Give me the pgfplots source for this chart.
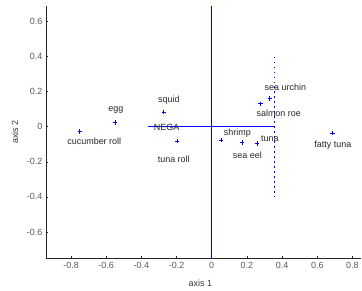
\documentclass[border=0pt]{standalone}
\usepackage{pgfplots}
\pgfplotsset{compat=1.18}
\usepackage{fontspec}
\setmainfont{Liberation Sans}
\definecolor{axgray}{RGB}{38,38,38}
\definecolor{mblue}{RGB}{0,0,255}
\begin{document}
\begin{tikzpicture}
\begin{axis}[
  name=ax,
  scale only axis,
  width=316pt, height=253.5pt,
  xmin=-0.943, xmax=0.85,
  ymin=-0.752, ymax=0.69,
  axis x line*=bottom, axis y line*=left,
  axis line style={axgray,-, line width=0.7pt},
  xtick={-0.8,-0.6,-0.4,-0.2,0,0.2,0.4,0.6,0.8},
  ytick={-0.6,-0.4,-0.2,0,0.2,0.4,0.6},
  tick align=inside,
  major tick length=2.5pt,
  tick style={axgray, line width=0.5pt},
  /pgf/number format/assume math mode=true,
  /pgf/number format/fixed,
  ticklabel style={font=\fontsize{9}{10}\selectfont, text=black!65},
  xlabel={axis 1}, ylabel={axis 2},
  xlabel style={font=\fontsize{9}{10}\selectfont, text=black!80, at={(axis description cs:0.49,-0.099)}, anchor=center},
  ylabel style={font=\fontsize{9}{10}\selectfont, text=black!80, at={(axis description cs:-0.098,0.5)}, anchor=center},
  clip=false,
]
% vertical line at 0
\addplot[draw=mblue, line width=1pt] coordinates {(0,-0.752) (0,0.69)};
% horizontal line
\addplot[draw=mblue, line width=0.9pt] coordinates {(-0.36,0) (0.36,0)};
% dotted vertical
\addplot[draw=mblue, line width=1.5pt, dash pattern=on 1.5pt off 3.5pt] coordinates {(0.356,0.4) (0.356,-0.4)};
% points
\addplot[draw=mblue, only marks, mark=+, mark size=2.2pt, mark options={draw=mblue, line width=0.8pt}] coordinates {
(-0.75,-0.028) (-0.549,0.023) (-0.273,0.084) (-0.197,-0.082) (0.053,-0.076)
(0.172,-0.089) (0.257,-0.095) (0.278,0.131) (0.330,0.160) (0.687,-0.036)
};
% labels
\addplot[only marks, mark=none, point meta=explicit symbolic, nodes near coords, every node near coord/.style={anchor=center, font=\fontsize{9}{10}\selectfont, text=black!85}] table[meta=label, col sep=comma] {
x,y,label
-0.668,-0.084,cucumber roll
-0.545,0.095,egg
-0.244,0.152,squid
-0.256,-0.002,NEGA
-0.216,-0.186,tuna roll
0.146,-0.034,shrimp
0.203,-0.163,sea eel
0.331,-0.066,tuna
0.381,0.074,salmon roe
0.419,0.226,sea urchin
0.689,-0.103,fatty tuna
};
\end{axis}
\path (ax.south west) ++(-46pt,-32pt);
\path (ax.north west) ++(0,5.7pt);
\end{tikzpicture}
\end{document}
